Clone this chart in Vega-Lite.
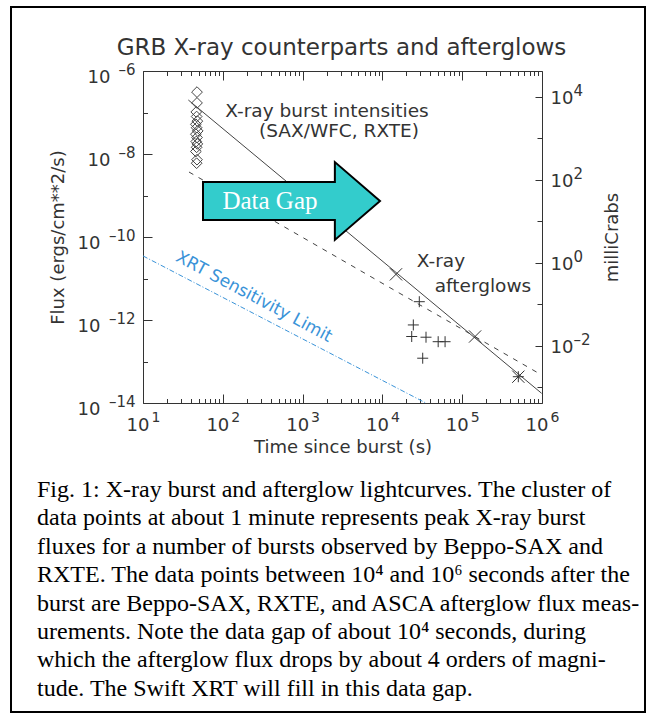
{
  "$schema": "https://vega.github.io/schema/vega-lite/v6.json",
  "width": 399,
  "height": 332,
  "autosize": {"type": "none"},
  "padding": {"left": 143, "top": 71, "right": 108, "bottom": 310},
  "background": "white",
  "config": {
    "view": {"stroke": "#333333", "strokeWidth": 1},
    "font": "DejaVu Sans",
    "axis": {
      "grid": false, "domain": false, "labelFlush": false, "labelOverlap": false, "labelBound": false,
      "tickColor": "#333333", "tickWidth": 1, "labelColor": "#333333", "labelFont": "DejaVu Sans",
      "titleFont": "DejaVu Sans", "titleColor": "#333333", "titleFontWeight": "normal", "labelFontWeight": "normal"
    }
  },
  "datasets": {
    "bursts": [
      {"t": 47.5, "flux": 3.1e-7}, {"t": 47.5, "flux": 1.7e-7}, {"t": 46.5, "flux": 1.03e-7},
      {"t": 47, "flux": 8.0e-8}, {"t": 48, "flux": 6.2e-8}, {"t": 46, "flux": 5.2e-8},
      {"t": 47, "flux": 4.3e-8}, {"t": 48.5, "flux": 3.6e-8}, {"t": 46, "flux": 3.0e-8},
      {"t": 47.5, "flux": 2.5e-8}, {"t": 46.5, "flux": 2.0e-8}, {"t": 48, "flux": 1.75e-8},
      {"t": 47, "flux": 1.45e-8}, {"t": 46, "flux": 1.15e-8}, {"t": 47.5, "flux": 7.3e-9},
      {"t": 47, "flux": 6.0e-9}
    ],
    "afterglow_plus": [
      {"t": 29000, "flux": 2.76e-12}, {"t": 24400, "flux": 7.6e-13}, {"t": 23300, "flux": 4.0e-13},
      {"t": 35200, "flux": 3.85e-13}, {"t": 50000, "flux": 3.0e-13}, {"t": 61000, "flux": 3.0e-13},
      {"t": 32000, "flux": 1.2e-13}, {"t": 505000, "flux": 4.3e-14}
    ],
    "afterglow_x": [
      {"t": 14800, "flux": 1.26e-11}, {"t": 145000, "flux": 4.0e-13}, {"t": 505000, "flux": 4.3e-14}
    ],
    "fit_steep": [{"t": 37, "flux": 2.0e-7}, {"t": 990000, "flux": 1.71e-14}],
    "fit_shallow": [{"t": 37.7, "flux": 3.68e-9}, {"t": 990000, "flux": 4.73e-14}],
    "xrt_limit": [{"t": 10, "flux": 3.5e-11}, {"t": 35000, "flux": 1e-14}],
    "notes": [
      {"t": 2023, "flux": 1.086e-7, "label": "X-ray burst intensities"},
      {"t": 2858, "flux": 3.58e-8, "label": "(SAX/WFC, RXTE)"},
      {"t": 54200, "flux": 2.64e-11, "label": "X-ray"},
      {"t": 182000, "flux": 6.59e-12, "label": "afterglows"}
    ],
    "xrt_note": [{"t": 246, "flux": 3.58e-12, "label": "XRT Sensitivity Limit"}],
    "title_note": [{"t": 3073, "flux": 3.58e-6, "label": "GRB X-ray counterparts and afterglows"}],
    "gap_arrow": [{"t": 726, "flux": 7.37e-10}],
    "gap_note": [{"t": 390, "flux": 7.37e-10, "label": "Data Gap"}],
    "frame": [{"t": 0.2218, "t2": 19530000, "flux": 3.485e-5, "flux2": 3.58e-22}],
    "caption": [{"t": 0.4695, "flux": 5.43e-17}],
    "dummy": [{"t": 100, "flux": 1e-10, "mcrab": 1}]
  },
  "encoding": {
    "x": {"field": "t", "type": "quantitative", "scale": {"type": "log", "domain": [10, 1000000], "nice": false}, "axis": null},
    "y": {"field": "flux", "type": "quantitative", "scale": {"type": "log", "domain": [1e-14, 1e-6], "nice": false}, "axis": null}
  },
  "layer": [
    {
      "layer": [
        {"data": {"name": "fit_steep"}, "mark": {"type": "line", "color": "#444444", "strokeWidth": 1}},
        {"data": {"name": "fit_shallow"}, "mark": {"type": "line", "color": "#444444", "strokeWidth": 1, "strokeDash": [5, 6]}},
        {"data": {"name": "xrt_limit"}, "mark": {"type": "line", "color": "#3a93d8", "strokeWidth": 1, "strokeDash": [5, 2, 1, 2]}},
        {"data": {"name": "bursts"}, "mark": {"type": "point", "shape": "diamond", "filled": false, "color": "#444444", "size": 115, "strokeWidth": 1, "opacity": 1}},
        {"data": {"name": "afterglow_plus"}, "mark": {"type": "point", "shape": "M-1,0L1,0M0,-1L0,1", "filled": false, "color": "#333333", "size": 121, "strokeWidth": 1, "opacity": 1}},
        {"data": {"name": "afterglow_x"}, "mark": {"type": "point", "shape": "M-1,-1L1,1M-1,1L1,-1", "filled": false, "color": "#333333", "size": 150, "strokeWidth": 1, "opacity": 1}},
        {"data": {"name": "gap_arrow"}, "mark": {"type": "point", "shape": "M-1,-0.215L0.49,-0.215L0.49,-0.44L1,0L0.49,0.44L0.49,0.215L-1,0.215Z", "filled": true, "fill": "#33cccc", "stroke": "#000000", "strokeWidth": 2, "size": 31329, "opacity": 1, "fillOpacity": 1}},
        {"data": {"name": "gap_note"}, "mark": {"type": "text", "font": "Liberation Serif", "fontSize": 25, "color": "#ffffff", "align": "center", "baseline": "middle"}, "encoding": {"text": {"field": "label"}}},
        {"data": {"name": "notes"}, "mark": {"type": "text", "fontSize": 18.5, "color": "#333333", "align": "center", "baseline": "middle"}, "encoding": {"text": {"field": "label"}}},
        {"data": {"name": "xrt_note"}, "mark": {"type": "text", "fontSize": 17, "color": "#3a93d8", "align": "center", "baseline": "middle", "angle": 28}, "encoding": {"text": {"field": "label"}}},
        {"data": {"name": "title_note"}, "mark": {"type": "text", "fontSize": 23, "color": "#333333", "align": "center", "baseline": "middle"}, "encoding": {"text": {"field": "label"}}},
        {
          "data": {"name": "frame"},
          "mark": {"type": "rect", "fill": "#ffffff", "fillOpacity": 0, "stroke": "#000000", "strokeWidth": 2},
          "encoding": {"x2": {"field": "t2"}, "y2": {"field": "flux2"}}
        },
        {
          "data": {"name": "caption"},
          "mark": {
            "type": "text", "font": "Liberation Serif", "fontSize": 24, "lineHeight": 28.4, "align": "left", "baseline": "alphabetic", "color": "#000000",
            "text": [
              "Fig. 1: X-ray burst and afterglow lightcurves.  The cluster of",
              "data points at about 1 minute represents peak X-ray burst",
              "fluxes for a number of bursts observed by Beppo-SAX and",
              "RXTE.  The data points between 10⁴ and 10⁶ seconds after the",
              "burst are Beppo-SAX, RXTE, and ASCA afterglow flux meas-",
              "urements.  Note the data gap of about 10⁴ seconds, during",
              "which the afterglow flux drops by about 4 orders of magni-",
              "tude.  The Swift XRT will fill in this data gap."
            ]
          }
        },
        {"data": {"name": "dummy"}, "mark": {"type": "point", "opacity": 0},
         "encoding": {"x": {"field": "t", "type": "quantitative", "scale": {"type": "log", "domain": [10, 1000000], "nice": false},
           "axis": {"orient": "bottom", "values": [10, 100, 1000, 10000, 100000, 1000000], "tickSize": -9, "labels": false, "title": null}}}},
        {"data": {"name": "dummy"}, "mark": {"type": "point", "opacity": 0},
         "encoding": {"x": {"field": "t", "type": "quantitative", "scale": {"type": "log", "domain": [10, 1000000], "nice": false},
           "axis": {"orient": "bottom", "values": [20,30,40,50,60,70,80,90,200,300,400,500,600,700,800,900,2000,3000,4000,5000,6000,7000,8000,9000,20000,30000,40000,50000,60000,70000,80000,90000,200000,300000,400000,500000,600000,700000,800000,900000], "tickSize": -4.5, "labels": false, "title": null}}}},
        {"data": {"name": "dummy"}, "mark": {"type": "point", "opacity": 0},
         "encoding": {"x": {"field": "t", "type": "quantitative", "scale": {"type": "log", "domain": [10, 1000000], "nice": false},
           "axis": {"orient": "top", "values": [10, 100, 1000, 10000, 100000, 1000000], "tickSize": -9, "labels": false, "title": null}}}},
        {"data": {"name": "dummy"}, "mark": {"type": "point", "opacity": 0},
         "encoding": {"x": {"field": "t", "type": "quantitative", "scale": {"type": "log", "domain": [10, 1000000], "nice": false},
           "axis": {"orient": "top", "values": [20,30,40,50,60,70,80,90,200,300,400,500,600,700,800,900,2000,3000,4000,5000,6000,7000,8000,9000,20000,30000,40000,50000,60000,70000,80000,90000,200000,300000,400000,500000,600000,700000,800000,900000], "tickSize": -4.5, "labels": false, "title": null}}}},
        {"data": {"name": "dummy"}, "mark": {"type": "point", "opacity": 0},
         "encoding": {"x": {"field": "t", "type": "quantitative", "scale": {"type": "log", "domain": [10, 1000000], "nice": false},
           "axis": {"orient": "bottom", "values": [10, 100, 1000, 10000, 100000, 1000000], "ticks": false, "tickSize": 0,
             "labelExpr": "'10'", "labelAlign": "right", "labelOffset": 6, "labelPadding": 13, "labelBaseline": "top", "labelFontSize": 18,
             "title": "Time since burst (s)", "titleFontSize": 18, "titlePadding": 4}}}},
        {"data": {"name": "dummy"}, "mark": {"type": "point", "opacity": 0},
         "encoding": {"x": {"field": "t", "type": "quantitative", "scale": {"type": "log", "domain": [10, 1000000], "nice": false},
           "axis": {"orient": "bottom", "values": [10, 100, 1000, 10000, 100000, 1000000], "ticks": false, "tickSize": 0,
             "labelExpr": "format(round(log(datum.value)/LN10), 'd')", "labelAlign": "left", "labelOffset": 8, "labelPadding": 7, "labelBaseline": "top", "labelFontSize": 14, "title": null}}}},
        {"data": {"name": "dummy"}, "mark": {"type": "point", "opacity": 0},
         "encoding": {"y": {"field": "flux", "type": "quantitative", "scale": {"type": "log", "domain": [1e-14, 1e-6], "nice": false},
           "axis": {"orient": "left", "values": [1e-6, 1e-8, 1e-10, 1e-12, 1e-14], "tickSize": -9, "labels": false, "title": null}}}},
        {"data": {"name": "dummy"}, "mark": {"type": "point", "opacity": 0},
         "encoding": {"y": {"field": "flux", "type": "quantitative", "scale": {"type": "log", "domain": [1e-14, 1e-6], "nice": false},
           "axis": {"orient": "left", "values": [1e-7, 1e-9, 1e-11, 1e-13], "tickSize": -4.5, "labels": false, "title": null}}}},
        {"data": {"name": "dummy"}, "mark": {"type": "point", "opacity": 0},
         "encoding": {"y": {"field": "flux", "type": "quantitative", "scale": {"type": "log", "domain": [1e-14, 1e-6], "nice": false},
           "axis": {"orient": "left", "values": [1e-6, 1e-8], "ticks": false, "tickSize": 0,
             "labelExpr": "'10'", "labelAlign": "right", "labelBaseline": "middle", "labelOffset": 6, "labelPadding": 33, "labelFontSize": 18, "title": null}}}},
        {"data": {"name": "dummy"}, "mark": {"type": "point", "opacity": 0},
         "encoding": {"y": {"field": "flux", "type": "quantitative", "scale": {"type": "log", "domain": [1e-14, 1e-6], "nice": false},
           "axis": {"orient": "left", "values": [1e-10, 1e-12, 1e-14], "ticks": false, "tickSize": 0,
             "labelExpr": "'10'", "labelAlign": "right", "labelBaseline": "middle", "labelOffset": 6, "labelPadding": 43, "labelFontSize": 18,
             "title": "Flux (ergs/cm**2/s)", "titleFontSize": 18, "titlePadding": 10}}}},
        {"data": {"name": "dummy"}, "mark": {"type": "point", "opacity": 0},
         "encoding": {"y": {"field": "flux", "type": "quantitative", "scale": {"type": "log", "domain": [1e-14, 1e-6], "nice": false},
           "axis": {"orient": "left", "values": [1e-6, 1e-8, 1e-10, 1e-12, 1e-14], "ticks": false, "tickSize": 0,
             "labelExpr": "'–' + format(-round(log(datum.value)/LN10), 'd')", "labelAlign": "right", "labelBaseline": "middle", "labelOffset": -2, "labelPadding": 8, "labelFontSize": 15, "title": null}}}}
      ],
      "resolve": {"axis": {"x": "independent", "y": "independent"}}
    },
    {
      "data": {"name": "dummy"},
      "layer": [
        {"mark": {"type": "point", "opacity": 0},
         "encoding": {"y": {"field": "mcrab", "type": "quantitative", "scale": {"type": "log", "domain": [0.00041667, 41666.7], "nice": false},
           "axis": {"orient": "right", "values": [10000, 100, 1, 0.01], "tickSize": -7, "labels": false, "title": null}}}},
        {"mark": {"type": "point", "opacity": 0},
         "encoding": {"y": {"field": "mcrab", "type": "quantitative", "scale": {"type": "log", "domain": [0.00041667, 41666.7], "nice": false},
           "axis": {"orient": "right", "values": [1000, 10, 0.1, 0.001], "tickSize": -5, "labels": false, "title": null}}}},
        {"mark": {"type": "point", "opacity": 0},
         "encoding": {"y": {"field": "mcrab", "type": "quantitative", "scale": {"type": "log", "domain": [0.00041667, 41666.7], "nice": false},
           "axis": {"orient": "right", "values": [10000, 100, 1, 0.01], "ticks": false, "tickSize": 0,
             "labelExpr": "'10'", "labelAlign": "left", "labelBaseline": "middle", "labelOffset": 2, "labelPadding": 8, "labelFontSize": 18, "title": null}}}},
        {"mark": {"type": "point", "opacity": 0},
         "encoding": {"y": {"field": "mcrab", "type": "quantitative", "scale": {"type": "log", "domain": [0.00041667, 41666.7], "nice": false},
           "axis": {"orient": "right", "values": [10000, 100, 1, 0.01], "ticks": false, "tickSize": 0,
             "labelExpr": "datum.value < 0.5 ? '–' + format(-round(log(datum.value)/LN10), 'd') : format(round(log(datum.value)/LN10), 'd')",
             "labelAlign": "left", "labelBaseline": "middle", "labelOffset": -6, "labelPadding": 31, "labelFontSize": 15,
             "title": "milliCrabs", "titleFontSize": 18, "titleAngle": 270, "titlePadding": 31}}}}
      ],
      "resolve": {"axis": {"y": "independent"}}
    }
  ],
  "resolve": {"scale": {"y": "independent"}, "axis": {"x": "independent", "y": "independent"}}
}
